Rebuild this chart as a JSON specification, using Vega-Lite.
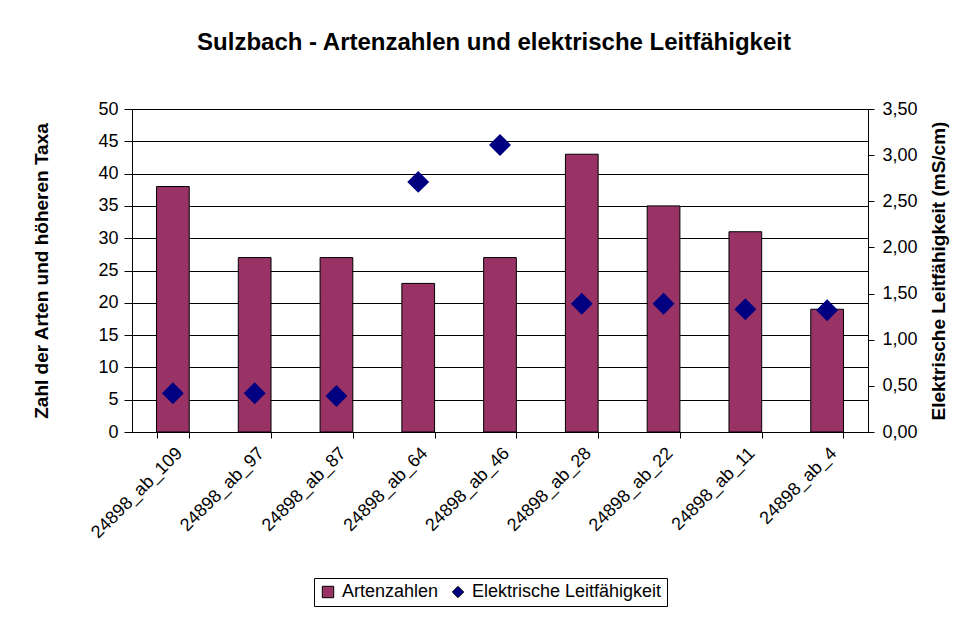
{
  "$schema": "https://vega.github.io/schema/vega-lite/v6.json",
  "autosize": {"type": "none"},
  "padding": {"left": 132, "top": 109, "right": 97, "bottom": 185},
  "width": 736,
  "height": 323,
  "background": "white",
  "title": {
    "text": "Sulzbach - Artenzahlen und elektrische Leitfähigkeit",
    "font": "Liberation Sans",
    "fontSize": 24,
    "fontWeight": "bold",
    "color": "black",
    "anchor": "middle",
    "dx": -6,
    "offset": 45
  },
  "data": {
    "values": [
      {"station": "24898_ab_109", "arten": 38, "leit": 0.42},
      {"station": "24898_ab_97", "arten": 27, "leit": 0.42},
      {"station": "24898_ab_87", "arten": 27, "leit": 0.39},
      {"station": "24898_ab_64", "arten": 23, "leit": 2.71},
      {"station": "24898_ab_46", "arten": 27, "leit": 3.11},
      {"station": "24898_ab_28", "arten": 43, "leit": 1.39},
      {"station": "24898_ab_22", "arten": 35, "leit": 1.39},
      {"station": "24898_ab_11", "arten": 31, "leit": 1.33},
      {"station": "24898_ab_4", "arten": 19, "leit": 1.32}
    ]
  },
  "encoding": {
    "x": {
      "field": "station",
      "type": "nominal",
      "sort": null,
      "scale": {"paddingInner": 0.6, "paddingOuter": 0.3},
      "axis": {
        "title": null,
        "labelAngle": -45,
        "labelFont": "Liberation Sans",
        "labelFontSize": 18,
        "labelColor": "black",
        "labelPadding": 6,
        "labelLimit": 300,
        "tickBand": "extent",
        "tickColor": "black",
        "tickSize": 6,
        "domainColor": "black",
        "grid": false
      }
    }
  },
  "layer": [
    {
      "mark": {"type": "bar", "fill": "#993366", "stroke": "black", "strokeWidth": 1},
      "encoding": {
        "y": {
          "field": "arten",
          "type": "quantitative",
          "scale": {"domain": [0, 50], "nice": false},
          "axis": {
            "title": "Zahl der Arten und höheren Taxa",
            "titleFont": "Liberation Sans",
            "titleFontSize": 19,
            "titleFontWeight": "bold",
            "titleColor": "black",
            "titlePadding": 46,
            "values": [0, 5, 10, 15, 20, 25, 30, 35, 40, 45, 50],
            "labelFont": "Liberation Sans",
            "labelFontSize": 18,
            "labelColor": "black",
            "labelPadding": 6,
            "tickSize": 8,
            "tickColor": "black",
            "domainColor": "black",
            "grid": true,
            "gridColor": "black",
            "gridOpacity": 1
          }
        },
        "color": {
          "datum": "Artenzahlen",
          "type": "nominal",
          "scale": {"domain": ["Artenzahlen", "Elektrische Leitfähigkeit"], "range": ["#993366", "#000080"]},
          "legend": {
            "title": null,
            "orient": "none",
            "legendX": 182,
            "legendY": 469,
            "direction": "horizontal",
            "labelFont": "Liberation Sans",
            "labelFontSize": 18,
            "labelColor": "black",
            "labelLimit": 400,
            "strokeColor": "black",
            "fillColor": "white",
            "padding": 5,
            "symbolSize": 130,
            "symbolStrokeWidth": 1,
            "columnPadding": 10,
            "labelOffset": 5
          }
        }
      }
    },
    {
      "mark": {"type": "point", "filled": true, "size": 480, "opacity": 1},
      "encoding": {
        "y": {
          "field": "leit",
          "type": "quantitative",
          "scale": {"domain": [0, 3.5], "nice": false},
          "axis": {
            "orient": "right",
            "title": "Elektrische Leitfähigkeit (mS/cm)",
            "titleAngle": 270,
            "titleFont": "Liberation Sans",
            "titleFontSize": 19,
            "titleFontWeight": "bold",
            "titleColor": "black",
            "titlePadding": 31,
            "values": [0, 0.5, 1, 1.5, 2, 2.5, 3, 3.5],
            "labelExpr": "replace(format(datum.value, '.2f'), '.', ',')",
            "labelFont": "Liberation Sans",
            "labelFontSize": 18,
            "labelColor": "black",
            "labelPadding": 8,
            "tickSize": 6,
            "tickColor": "black",
            "domainColor": "black",
            "grid": false
          }
        },
        "color": {"datum": "Elektrische Leitfähigkeit", "type": "nominal"},
        "shape": {
          "datum": "Elektrische Leitfähigkeit",
          "type": "nominal",
          "scale": {"domain": ["Artenzahlen", "Elektrische Leitfähigkeit"], "range": ["square", "diamond"]},
          "legend": {
            "title": null,
            "orient": "none",
            "legendX": 182,
            "legendY": 469,
            "direction": "horizontal",
            "labelFont": "Liberation Sans",
            "labelFontSize": 18,
            "labelColor": "black",
            "labelLimit": 400,
            "strokeColor": "black",
            "fillColor": "white",
            "padding": 5,
            "symbolSize": 130,
            "columnPadding": 10,
            "labelOffset": 5
          }
        }
      }
    }
  ],
  "resolve": {"scale": {"y": "independent"}},
  "config": {
    "view": {"stroke": null},
    "font": "Liberation Sans"
  }
}
